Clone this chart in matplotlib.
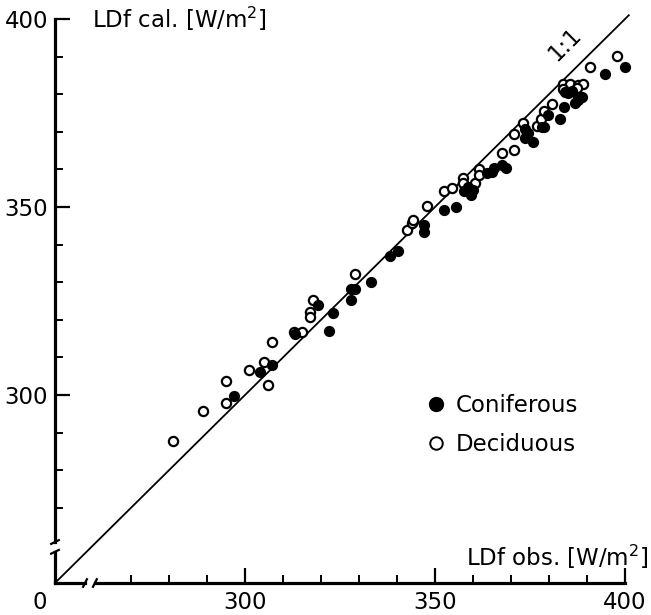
import numpy as np
import matplotlib.pyplot as plt
from matplotlib.lines import Line2D

con_obs = [297.0, 303.9, 307.1, 313.2, 319.3, 322.1, 323.1, 327.9, 327.9, 328.9,
           333.2, 338.2, 340.3, 347.2, 347.2, 352.4, 355.4, 357.6, 358.6, 359.5,
           359.9, 363.7, 364.9, 365.5, 367.6, 368.8, 373.7, 374.1, 373.7, 374.6,
           375.9, 378.2, 378.8, 379.8, 382.9, 383.9, 384.2, 385.1, 386.1, 386.8,
           387.7, 387.7, 388.8, 394.8, 400.0]
con_cal = [299.7, 306.0, 308.0, 316.1, 323.9, 317.0, 321.9, 325.3, 328.1, 328.2,
           330.1, 337.0, 338.4, 345.2, 343.4, 349.3, 350.1, 354.3, 355.2, 353.2,
           354.5, 359.1, 359.3, 360.3, 361.3, 360.4, 370.7, 369.1, 368.3, 369.8,
           367.4, 371.2, 371.4, 374.5, 373.4, 376.5, 380.7, 380.3, 380.8, 377.6,
           378.5, 379.3, 379.3, 385.4, 387.2]

dec_obs = [281.0, 289.0, 295.0, 295.0, 301.0, 305.0, 306.0, 307.0, 313.0, 315.0,
           317.0, 317.0, 318.0, 329.0, 342.5, 344.0, 344.3, 348.0, 352.4, 354.5,
           357.4, 357.4, 360.6, 361.7, 361.7, 367.6, 370.8, 370.8, 373.2, 376.8,
           377.8, 378.7, 380.9, 383.8, 385.5, 387.7, 389.0, 383.8, 387.3, 390.9,
           397.8]
dec_cal = [287.8, 295.7, 297.9, 303.7, 306.7, 308.9, 302.7, 314.0, 316.8, 316.7,
           322.2, 320.8, 325.2, 332.3, 344.0, 345.7, 346.5, 350.2, 354.2, 355.1,
           357.6, 356.3, 356.3, 360.2, 358.4, 364.3, 365.2, 369.4, 372.4, 371.5,
           373.5, 375.5, 377.5, 382.6, 382.6, 382.4, 382.6, 381.5, 381.6, 387.2,
           390.2]

major = [300, 350, 400]
minor = [270, 280, 290, 310, 320, 330, 340, 360, 370, 380, 390]

plt.rcParams['font.family'] = 'DejaVu Sans'
fs = 16.5

fig = plt.figure(figsize=(6.51, 6.15), dpi=100)
ax = fig.add_axes([55 / 651, 32 / 615, 577.6 / 651, 571.5 / 615])
ax.set_xlim(250, 402)
ax.set_ylim(250, 402)
for s in ax.spines.values():
    s.set_visible(False)

# axes with breaks near the origin
lw_ax = 2.3
ax.plot([250, 257.8], [250, 250], color='k', lw=lw_ax, clip_on=False)
ax.plot([260.6, 400], [250, 250], color='k', lw=lw_ax, clip_on=False)
ax.plot([250, 250], [250, 258.2], color='k', lw=lw_ax, clip_on=False)
ax.plot([250, 250], [260.9, 400], color='k', lw=lw_ax, clip_on=False)
# break marks
ax.plot([257.4, 258.4], [249.0, 251.0], color='k', lw=1.6, clip_on=False)
ax.plot([260.0, 261.0], [249.0, 251.0], color='k', lw=1.6, clip_on=False)
ax.plot([249.0, 251.0], [257.8, 258.8], color='k', lw=1.6, clip_on=False)
ax.plot([249.0, 251.0], [260.4, 261.4], color='k', lw=1.6, clip_on=False)

ax.set_xticks(major)
ax.set_yticks(major)
ax.set_xticks(minor, minor=True)
ax.set_yticks(minor, minor=True)
ax.tick_params(which='major', direction='in', length=11, width=1.6,
               labelsize=fs, pad=6)
ax.tick_params(which='minor', direction='in', length=6, width=1.4)
ax.tick_params(axis='y', which='major', pad=5)

# the "0" at the origin
ax.annotate('0', xy=(246, 250), xytext=(0, -6), textcoords='offset points',
            fontsize=fs, ha='center', va='top', annotation_clip=False)

# 1:1 line
ax.plot([250, 401], [250, 401], color='k', lw=1.3, clip_on=False)
ax.text(384.2, 393.3, '1:1', fontsize=fs, rotation=45, ha='center',
        va='center')

ax.scatter(dec_obs, dec_cal, s=44, facecolors='white', edgecolors='k',
           linewidths=1.6, zorder=3)
ax.scatter(con_obs, con_cal, s=50, color='k', zorder=4)

ax.text(259.7, 400, 'LDf cal. [W/m$^2$]', fontsize=fs, ha='left',
        va='center')
ax.text(406, 256.9, 'LDf obs. [W/m$^2$]', fontsize=fs, ha='right',
        va='center', clip_on=False)

handles = [Line2D([], [], marker='o', ls='none', color='k', markersize=10),
           Line2D([], [], marker='o', ls='none', markerfacecolor='white',
                  markeredgecolor='k', markeredgewidth=1.4, markersize=9)]
ax.legend(handles, ['Coniferous', 'Deciduous'], loc='center left',
          bbox_to_anchor=(0.624, 0.276), frameon=False, fontsize=fs,
          handlelength=0.8, handletextpad=0.45, labelspacing=0.7,
          borderpad=0)

fig.savefig('out.png', dpi=100)
